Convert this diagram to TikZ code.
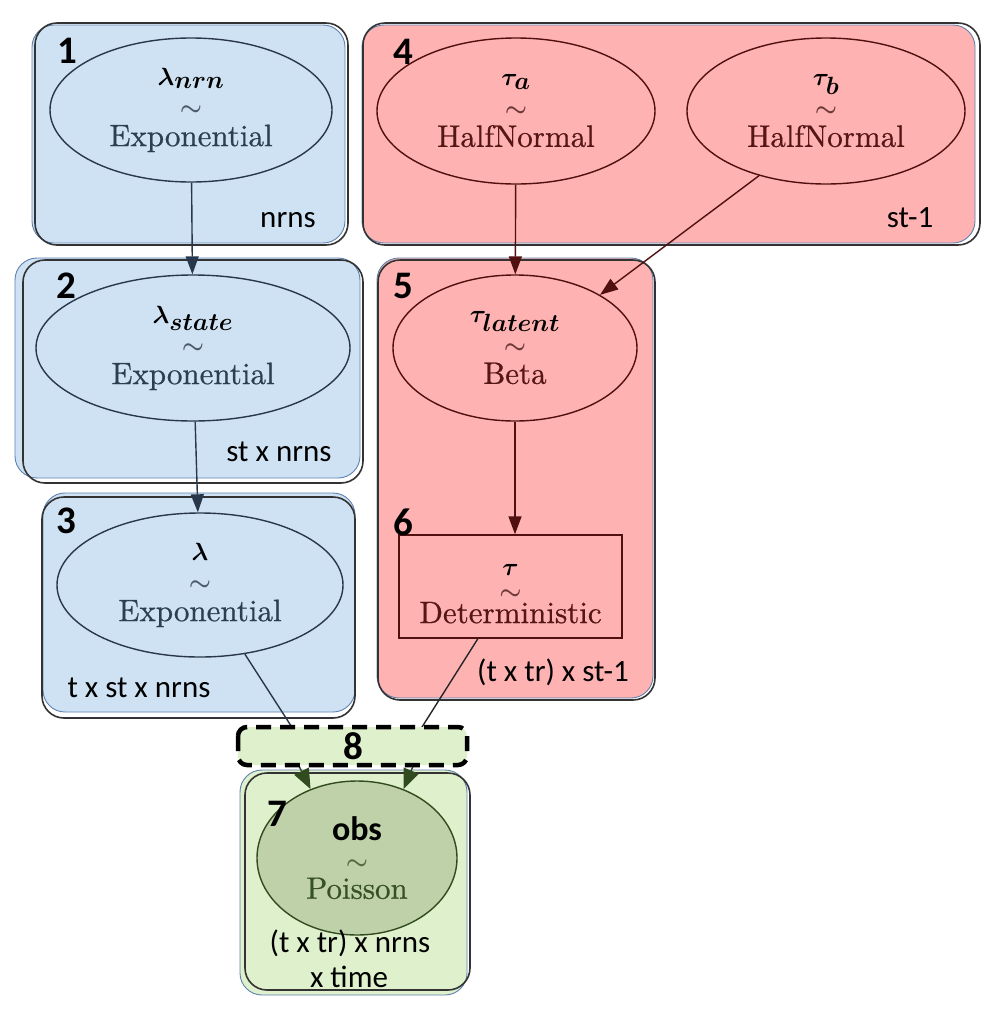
\documentclass[tikz,border=0pt]{standalone}
\usepackage{amsmath}
\usepackage{bm}
\usepackage{fontspec}
\newfontfamily\sansf{Carlito}
\newfontfamily\distf{lmroman10-regular.otf}[FakeBold=0.6]
\usetikzlibrary{shapes.geometric,arrows.meta,calc}
\definecolor{bfill}{RGB}{207,226,243}
\definecolor{bedge}{RGB}{95,130,175}
\definecolor{slate}{RGB}{40,56,74}
\definecolor{slatetxt}{RGB}{44,62,82}
\definecolor{pfill}{RGB}{255,178,178}
\definecolor{maroon}{RGB}{80,16,16}
\definecolor{maroontxt}{RGB}{85,22,22}
\definecolor{gfill}{RGB}{223,240,205}
\definecolor{gell}{RGB}{190,209,168}
\definecolor{gdark}{RGB}{50,75,30}
\definecolor{gtxt}{RGB}{55,80,36}
\newcommand\tld[1]{{\color{#1}\fontsize{24}{24}\selectfont$\boldsymbol{\sim}$}}
\newcommand\mlab[1]{\textcolor{black}{\fontsize{34}{34}\selectfont$\boldsymbol{#1}$}}
\begin{document}
\begin{tikzpicture}[x=1pt,y=-1pt,
  platefill/.style={rounded corners=22pt, line width=0.9pt},
  plateline/.style={draw=black!80, line width=1.6pt, rounded corners=22pt},
  ellb/.style={ellipse, draw=slate, line width=1.4pt, inner sep=0pt, align=center, text=slatetxt, font=\distf\fontsize{31}{30.5}\selectfont},
  ellr/.style={ellipse, draw=maroon, line width=1.4pt, inner sep=0pt, align=center, text=maroontxt, font=\distf\fontsize{31}{30.5}\selectfont},
  ellg/.style={ellipse, draw=gdark, fill=gell, line width=1.4pt, inner sep=0pt, align=center, text=gtxt, font=\distf\fontsize{31}{29}\selectfont},
  detbox/.style={rectangle, draw=maroon, line width=1.4pt, inner sep=0pt, align=center, text=maroontxt, font=\distf\fontsize{31}{24}\selectfont},
  arrtip/.style={-{Triangle[length=18pt,width=13pt]}},
  arrb/.style={draw=slate, line width=1.4pt, arrtip},
  arrr/.style={draw=maroon, line width=1.4pt, arrtip},
  arrg/.style={draw=gdark, line width=1.4pt, -{Triangle[length=20pt,width=16pt]}},
  num/.style={inner sep=0pt, font=\sansf\bfseries\fontsize{39}{39}\selectfont},
  platelab/.style={inner sep=0pt, font=\sansf\fontsize{31}{31}\selectfont},
  dashbox/.style={fill=gfill, draw=black, line width=4.5pt, dash pattern=on 15pt off 9pt, rounded corners=9pt}
]
\useasboundingbox (0,0) rectangle (1004,1021);
\fill[white] (0,0) rectangle (1004,1021);

% plates
\filldraw[platefill, fill=bfill, draw=bedge] (32,25) rectangle (345,243);
\draw[plateline] (35,23) rectangle (348,245);
\filldraw[platefill, fill=bfill, draw=bedge] (15,258) rectangle (360,478);
\draw[plateline] (23,260) rectangle (363,483);
\filldraw[platefill, fill=bfill, draw=bedge] (43,493) rectangle (355,712);
\draw[plateline] (42,497) rectangle (355,718);
\filldraw[platefill, fill=pfill, draw=bedge] (362,25) rectangle (975,243);
\draw[plateline] (363,23) rectangle (980,245);
\filldraw[platefill, fill=pfill, draw=bedge] (377,258) rectangle (653,698);
\draw[plateline] (378,260) rectangle (655,700);
\filldraw[platefill, fill=gfill, draw=bedge] (240,770) rectangle (467,995);
\draw[plateline] (245,773) rectangle (470,990);

% variable nodes
\node[ellb, minimum width=282pt, minimum height=144pt] (e1) at (191,110)
  {\mlab{\lambda_{nrn}}\\\tld{slatetxt!85}\\Exponential};
\node[ellb, minimum width=314pt, minimum height=146pt] (e2) at (193,348)
  {\mlab{\lambda_{state}}\\\tld{slatetxt!85}\\Exponential};
\node[ellb, minimum width=286pt, minimum height=144pt] (e3) at (200,585)
  {\mlab{\lambda}\\\tld{slatetxt!85}\\Exponential};
\node[ellr, minimum width=278pt, minimum height=146pt] (ta) at (516,111)
  {\mlab{\tau_{a}}\\\tld{maroontxt!85}\\HalfNormal};
\node[ellr, minimum width=278pt, minimum height=146pt] (tb) at (826,111)
  {\mlab{\tau_{b}}\\\tld{maroontxt!85}\\HalfNormal};
\node[ellr, minimum width=244pt, minimum height=146pt] (e5) at (515,348)
  {\mlab{\tau_{latent}}\\\tld{maroontxt!85}\\Beta};
\node[detbox, minimum width=223pt, minimum height=103pt] (r6) at (510.5,586.5)
  {\rule{0pt}{25.5pt}\mlab{\tau}\\\tld{maroontxt!85}\\Deterministic};
\node[ellg, minimum width=200pt, minimum height=154pt] (e7) at (357,858)
  {\textcolor{black}{\sansf\bfseries\fontsize{34}{29}\selectfont obs}\\\tld{gtxt!85}\\Poisson};

% connectors
\draw[arrb] (e1) -- (e2);
\draw[arrb] (e2) -- (e3);
\draw[arrr] (ta) -- (e5);
\draw[arrr] (tb.-136) -- (e5.32);
\draw[arrr] (e5.south) -- (e5.south |- r6.north);

\coordinate (j1) at (304,746);
\coordinate (j1b) at (292,752);
\coordinate (j2) at (410,746);
\coordinate (j2b) at (419,752);
\draw[draw=slate, line width=1.4pt] (e3.-57) -- (j1);
\draw[draw=black!85, line width=1.4pt] (r6.-122.6) -- (j2);
\draw[arrg] (j1b) -- (e7.124);
\draw[arrg] (j2b) -- (e7.56);

% dashed plate 8
\draw[dashbox] (238,727) rectangle (467,765);

% plate numbers
\node[num] (n1) at (67,51) {1};
\node[num] (n2) at (66,286) {2};
\node[num] (n3) at (66,521) {3};
\node[num] (n4) at (403,52) {4};
\node[num] (n5) at (403,286) {5};
\node[num] (n6) at (403,522) {6};
\node[num] (n7) at (277,814) {7};
\node[num] (n8) at (353,746) {8};

% plate sizes
\node[platelab] (s1) at (288,220) {nrns};
\node[platelab] (s2) at (279,452) {st x nrns};
\node[platelab] (s3) at (139,688) {t x st x nrns};
\node[platelab] (s4) at (910,218) {st-1};
\node[platelab] (s5) at (553,672) {(t x tr) x st-1};
\node[platelab] (s7a) at (350,943) {(t x tr) x nrns};
\node[platelab] (s7b) at (349,977) {x time};
\end{tikzpicture}
\end{document}
